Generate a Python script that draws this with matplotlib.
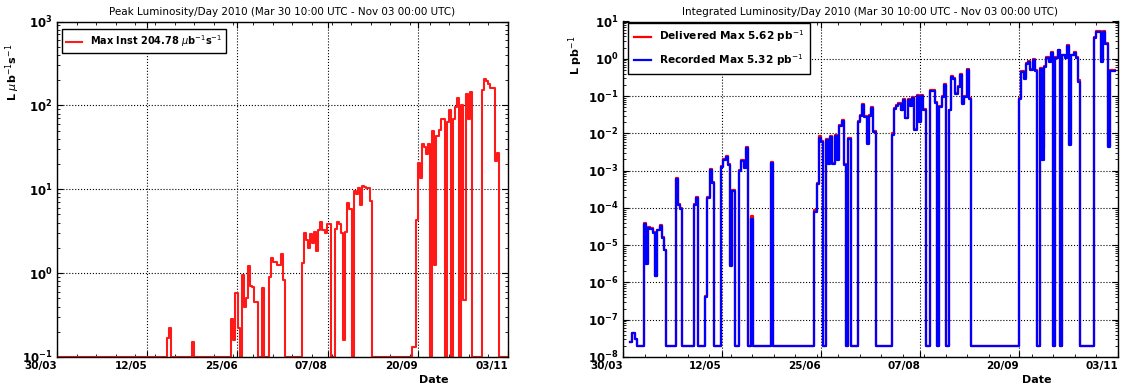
import numpy as np
import matplotlib
matplotlib.use("Agg")
import matplotlib.pyplot as plt
import matplotlib.dates as mdates
from matplotlib.ticker import FixedLocator, FuncFormatter, LogLocator, NullFormatter
from datetime import datetime, timedelta

# time window of the run and the first daily bin (bins are centred on noon)
t_start = datetime(2010, 3, 30, 10)
t_stop = datetime(2010, 11, 3)
first_bin = datetime(2010, 3, 30, 12)

nan = float("nan")

# peak instantaneous luminosity per day, ub^-1 s^-1 (0 = no stable beams)
peak_inst = [
    0, 0, 0, 0, 0, 0, 0, 0, 0, 0,
    0, 0, 0, 0, 0, 0, 0, 0, 0, 0,
    0, 0, 0, 0, 0, 0, 0, 0, 0, 0,
    0, 0, 0, 0, 0, 0, 0, 0, 0, 0,
    0, 0, 0, 0, 0, 0, 0, 0, 0, 0,
    0, 0, 0, 0.17, 0.22, 0, 0, 0, 0, 0,
    0, 0, 0, 0, 0, 0.15, 0, 0, 0, 0,
    0, 0, 0, 0, 0, 0, 0, 0, 0, 0,
    0, 0, 0, 0, 0.28, 0.16, 0.58, 0.22, 0, 0.94,
    0.40, 0.50, 1.2, 0.71, 0.68, 0.45, 0.45, 0, 0, 0.67,
    0, 0, 0.91, 1.53, 1.37, 1.37, 1.26, 1.26, 1.70, 0.83,
    0, 0, 0, 0, 0, 0, 0, 0, 1.32, 3.0,
    2.5, 2.0, 2.9, 2.3, 3.1, 1.86, 3.3, 4.1, 3.3, 3.0,
    3.8, 3.8, 0, 0, 3.4, 4.1, 3.8, 3.0, 0.16, 3.1,
    6.8, 5.8, 0, 9.6, 8.8, 10.3, 6.5, 11.0, 10.7, 10.4,
    10.4, 7.3, 0, 0, 0, 0, 0, 0, 0, 0,
    0, 0, 0, 0, 0, 0, 0, 0, 0, 0,
    0, 0.13, 0.13, 4.3, 20.4, 13.5, 35, 31.6, 26, 35,
    0, 50, 1.26, 43, 51, 69, 69, 0, 64, 89,
    0, 69, 95, 123, 0, 100, 0.48, 135, 69, 145,
    0, 0, 0, 0, 0, 152, 204.78, 195, 178, 160,
    160, 22, 27, 0, 0, 0, 0, 0,
]

# integrated luminosity per day, pb^-1 (0 = nothing delivered)
delivered = [
    nan, nan, nan, 2.5e-8, 4.4e-8, 3e-8, 0, 0, 0, 4.0e-5,
    3.4e-6, 3.1e-5, 2.9e-5, 2.2e-5, 1.5e-6, 2.6e-5, 3.5e-5, 1.7e-5, 7.6e-6, 0,
    0, 0, 0, 6.5e-4, 1.25e-4, 1.0e-4, 0, 0, 0, 0,
    0, 1.27e-4, 1.97e-4, 0, 0, 0, 4.3e-7, 1.97e-4, 1.13e-3, 4.9e-4,
    0, 0, 0, 1.36e-3, 2.05e-3, 2.4e-3, 1.54e-3, 2.9e-6, 3.0e-4, 0,
    0, 1.06e-3, 1.96e-3, 1.27e-3, 4.35e-3, 0, 6.0e-5, 0, 0, 0,
    0, 0, 0, 0, 0, 1.66e-3, 0, 0, 0, 0,
    0, 0, 0, 0, 0, 0, 0, 0, 0, 0,
    0, 0, 0, 0, 9.0e-5, 4.6e-4, 8.6e-3, 6.3e-3, 0, 6.9e-3,
    1.64e-3, 8.5e-3, 1.64e-3, 8.8e-3, 2.0e-3, 1.64e-2, 2.27e-2, 1.46e-3, 0, 7.6e-3,
    0, 0, 0, 2.12e-2, 3.2e-2, 6.2e-2, 2.9e-2, 5.6e-3, 3.1e-2, 5.1e-2,
    1.17e-2, 0, 0, 0, 0, 0, 0, 0, 1.0e-2, 4.9e-2,
    5.6e-2, 6.7e-2, 4.3e-2, 8.2e-2, 2.65e-2, 8.5e-2, 5.7e-2, 9.6e-2, 1.27e-2, 0.104,
    2.12e-2, 0.104, 4.6e-2, 0, 0, 0.148, 0.144, 6.9e-2, 0, 5.4e-2,
    0.10, 0.212, 0, 4.35e-2, 0.34, 0.31, 0.123, 0.186, 0.39, 6.7e-2,
    0.10, 0.52, 9.0e-2, 0, 0, 0, 0, 0, 0, 0,
    0, 0, 0, 0, 0, 0, 0, 0, 0, 0,
    0, 0, 0, 0, 8.8e-2, 0.47, 0.30, 0.77, 0.86, 0.52,
    1.0, 0.49, 0, 0.55, 4.0e-3, 0.64, 1.12, 0.85, 1.49, 0,
    1.13, 1.77, 0, 1.3, 1.13, 2.4, 5.1e-3, 1.3, 1.5, 1.13,
    0.27, 0, 0, 0, 0, 0, 0, 3.9, 5.62, 5.4,
    0.85, 5.5, 2.65, 4.6e-3, 0.49, 0.49, nan, nan,
]

recorded = [
    nan, nan, nan, 2.5e-8, 4.4e-8, 3e-8, 0, 0, 0, 3.7e-5,
    3.2e-6, 2.9e-5, 2.7e-5, 2.1e-5, 1.45e-6, 2.5e-5, 3.3e-5, 1.6e-5, 7.2e-6, 0,
    0, 0, 0, 6.1e-4, 1.18e-4, 9.6e-5, 0, 0, 0, 0,
    0, 1.2e-4, 1.86e-4, 0, 0, 0, 4.1e-7, 1.86e-4, 1.07e-3, 4.6e-4,
    0, 0, 0, 1.28e-3, 1.94e-3, 2.3e-3, 1.45e-3, 2.7e-6, 2.8e-4, 0,
    0, 1.0e-3, 1.85e-3, 1.2e-3, 4.1e-3, 0, 5.0e-5, 0, 0, 0,
    0, 0, 0, 0, 0, 1.57e-3, 0, 0, 0, 0,
    0, 0, 0, 0, 0, 0, 0, 0, 0, 0,
    0, 0, 0, 0, 7.7e-5, 4.3e-4, 7.7e-3, 5.9e-3, 0, 6.5e-3,
    1.55e-3, 8.0e-3, 1.55e-3, 8.3e-3, 1.9e-3, 1.55e-2, 2.14e-2, 1.38e-3, 0, 7.2e-3,
    0, 0, 0, 2.0e-2, 3.0e-2, 5.9e-2, 2.7e-2, 5.3e-3, 2.9e-2, 4.8e-2,
    1.1e-2, 0, 0, 0, 0, 0, 0, 0, 8.9e-3, 4.6e-2,
    5.3e-2, 6.3e-2, 4.1e-2, 7.7e-2, 2.5e-2, 8.0e-2, 5.4e-2, 9.1e-2, 1.2e-2, 9.8e-2,
    2.0e-2, 9.8e-2, 4.3e-2, 0, 0, 0.14, 0.136, 6.5e-2, 0, 5.1e-2,
    9.4e-2, 0.20, 0, 4.1e-2, 0.32, 0.29, 0.116, 0.175, 0.37, 6.3e-2,
    9.4e-2, 0.49, 8.5e-2, 0, 0, 0, 0, 0, 0, 0,
    0, 0, 0, 0, 0, 0, 0, 0, 0, 0,
    0, 0, 0, 0, 8.1e-2, 0.44, 0.28, 0.73, 0.81, 0.49,
    0.94, 0.46, 0, 0.52, 1.9e-3, 0.60, 1.06, 0.80, 1.41, 0,
    1.07, 1.67, 0, 1.23, 1.07, 2.27, 4.8e-3, 1.23, 1.42, 1.07,
    0.24, 0, 0, 0, 0, 0, 0, 3.6, 5.32, 5.1,
    0.80, 5.2, 2.5, 4.3e-3, 0.46, 0.46, nan, nan,
]

peak_floor = 0.1     # empty days sit on the bottom of the peak plot
lumi_floor = 2e-8    # and on this level in the integrated plot

days = [first_bin + timedelta(days=i) for i in range(len(peak_inst))]


def with_floor(vals, floor):
    v = np.array(vals, dtype=float)
    v[v == 0] = floor
    return v


plt.rcParams['font.family'] = 'DejaVu Sans'
plt.rcParams['mathtext.fontset'] = 'dejavusans'

fig = plt.figure(figsize=(11.23, 3.89), dpi=100)
ax1 = fig.add_axes([57 / 1123, 1 - 357 / 389, 451 / 1123, 335.5 / 389])
ax2 = fig.add_axes([623 / 1123, 1 - 357 / 389, 495 / 1123, 335.5 / 389])

decade = FuncFormatter(lambda v, pos: r'$\mathbf{10^{%d}}$' % int(round(np.log10(v))))


def style_axes(ax, title, ylabel, ylabel_y):
    ax.set_yscale('log')
    ax.set_xlim(t_start, t_stop)
    lo, hi = mdates.date2num(t_start), mdates.date2num(t_stop)
    ax.xaxis.set_major_locator(FixedLocator(np.linspace(lo, hi, 6)))
    ax.xaxis.set_minor_locator(FixedLocator(np.linspace(lo, hi, 24)))
    ax.xaxis.set_major_formatter(mdates.DateFormatter('%d/%m'))
    ax.yaxis.set_major_locator(LogLocator(base=10, numticks=20))
    ax.yaxis.set_minor_locator(LogLocator(base=10, subs=np.arange(2, 10), numticks=20))
    ax.yaxis.set_major_formatter(decade)
    ax.yaxis.set_minor_formatter(NullFormatter())
    ax.tick_params(which='both', direction='in', top=True, right=True)
    ax.tick_params(which='major', length=4, width=0.8)
    ax.tick_params(which='minor', length=2, width=0.6)
    ax.tick_params(axis='x', labelsize=7.5, pad=3)
    ax.tick_params(axis='y', labelsize=8.5, pad=3)
    for lab in ax.get_xticklabels():
        lab.set_fontweight('bold')
        lab.set_horizontalalignment('right')
    ax.grid(True, which='major', linestyle=':', color='k', linewidth=0.8)
    ax.set_title(title, fontsize=7.5, pad=5)
    ax.set_xlabel('Date', fontsize=8, fontweight='bold')
    ax.xaxis.set_label_coords(0.836, -0.055)
    ax.set_ylabel(ylabel, fontsize=8, fontweight='bold')
    ax.yaxis.set_label_coords(-0.077, ylabel_y)
    for sp in ax.spines.values():
        sp.set_linewidth(1.0)


# peak luminosity
ax1.step(days, with_floor(peak_inst, peak_floor), where='post', color='#ff1a1a', lw=1.5,
         label=r'Max Inst %.2f $\mu$b$^{-1}$s$^{-1}$' % max(peak_inst))
ax1.set_ylim(0.1, 1000)
style_axes(ax1, 'Peak Luminosity/Day 2010 (Mar 30 10:00 UTC - Nov 03 00:00 UTC)',
           r'L $\mu$b$^{-1}$s$^{-1}$', 0.85)
leg1 = ax1.legend(loc='upper left', prop={'weight': 'bold', 'size': 7}, fancybox=False,
                  edgecolor='k', framealpha=1, handlelength=1.6, borderpad=0.45,
                  borderaxespad=0, bbox_to_anchor=(0.011, 0.978))
leg1.get_frame().set_linewidth(1.0)

# integrated luminosity
ax2.step(days, with_floor(delivered, lumi_floor), where='post', color='#ff0000', lw=1.6,
         label=r'Delivered Max %.2f pb$^{-1}$' % np.nanmax(delivered))
ax2.step(days, with_floor(recorded, lumi_floor), where='post', color='#0000ff', lw=1.6,
         label=r'Recorded Max %.2f pb$^{-1}$' % np.nanmax(recorded))
ax2.set_ylim(1e-8, 10)
style_axes(ax2, 'Integrated Luminosity/Day 2010 (Mar 30 10:00 UTC - Nov 03 00:00 UTC)',
           r'L pb$^{-1}$', 0.9)
leg2 = ax2.legend(loc='upper left', prop={'weight': 'bold', 'size': 7.6}, fancybox=False,
                  edgecolor='k', framealpha=1, handlelength=1.6, borderpad=0.55,
                  labelspacing=0.75, borderaxespad=0, bbox_to_anchor=(0.010, 0.996))
leg2.get_frame().set_linewidth(1.0)

fig.savefig('out.png', dpi=100)
